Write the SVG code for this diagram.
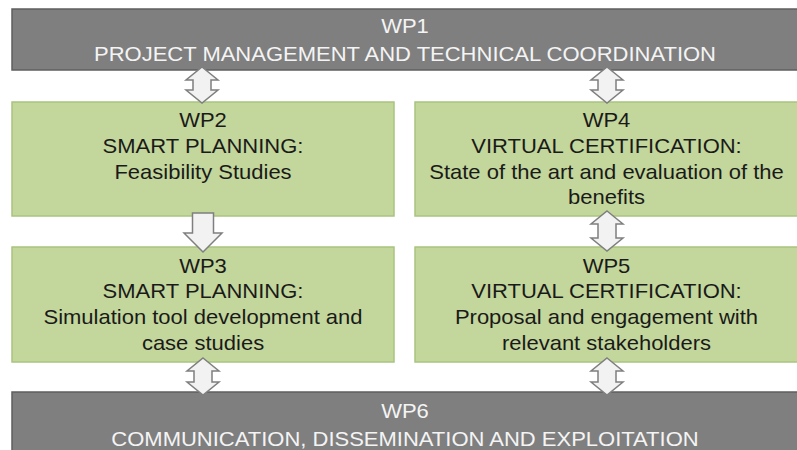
<svg xmlns="http://www.w3.org/2000/svg" width="797" height="450" viewBox="0 0 797 450">
<style>
.gray{fill:#7f7f7f;stroke:#5f5f5f;stroke-width:1.5}
.green{fill:#c3d69b;stroke:#a9c47f;stroke-width:1.5}
.arr{fill:#f2f2f2;stroke:#7f7f7f;stroke-width:1.5;stroke-linejoin:miter}
text{font-family:"Liberation Sans",Arial,sans-serif;font-size:20px;text-anchor:middle}
.lt{fill:#f4f4f4}
.dk{fill:#1a1a1a}
</style>
<rect x="0" y="0" width="797" height="450" fill="#ffffff"/>
<g id="wp1">
<rect class="gray" x="12" y="9" width="800" height="61"/>
<text class="lt" transform="translate(405,33) scale(1.1,1)">WP1</text>
<text class="lt" transform="translate(405,61) scale(1.1,1)">PROJECT MANAGEMENT AND TECHNICAL COORDINATION</text>
</g>
<g id="wp2">
<rect class="green" x="12" y="102" width="382" height="114"/>
<text class="dk" transform="translate(203,127) scale(1.1,1)">WP2</text>
<text class="dk" transform="translate(203,153) scale(1.1,1)">SMART PLANNING:</text>
<text class="dk" transform="translate(203,179) scale(1.1,1)">Feasibility Studies</text>
</g>
<g id="wp4">
<rect class="green" x="415" y="102" width="390" height="114"/>
<text class="dk" transform="translate(606.5,127) scale(1.1,1)">WP4</text>
<text class="dk" transform="translate(606.5,153) scale(1.1,1)">VIRTUAL CERTIFICATION:</text>
<text class="dk" transform="translate(606.5,179) scale(1.1,1)">State of the art and evaluation of the</text>
<text class="dk" transform="translate(606.5,204) scale(1.1,1)">benefits</text>
</g>
<g id="wp3">
<rect class="green" x="12" y="247" width="382" height="115"/>
<text class="dk" transform="translate(203,272.5) scale(1.1,1)">WP3</text>
<text class="dk" transform="translate(203,298) scale(1.1,1)">SMART PLANNING:</text>
<text class="dk" transform="translate(203,324) scale(1.1,1)">Simulation tool development and</text>
<text class="dk" transform="translate(203,350) scale(1.1,1)">case studies</text>
</g>
<g id="wp5">
<rect class="green" x="415" y="247" width="390" height="115"/>
<text class="dk" transform="translate(606.5,272.5) scale(1.1,1)">WP5</text>
<text class="dk" transform="translate(606.5,298) scale(1.1,1)">VIRTUAL CERTIFICATION:</text>
<text class="dk" transform="translate(606.5,324) scale(1.1,1)">Proposal and engagement with</text>
<text class="dk" transform="translate(606.5,350) scale(1.1,1)">relevant stakeholders</text>
</g>
<g id="wp6">
<rect class="gray" x="12" y="392" width="800" height="70"/>
<text class="lt" transform="translate(405,418) scale(1.1,1)">WP6</text>
<text class="lt" transform="translate(405,446) scale(1.1,1)">COMMUNICATION, DISSEMINATION AND EXPLOITATION</text>
</g>
<g id="connectors">
<path class="arr" d="M202,67 L218,80 L211,80 L211,90 L218,90 L202,103 L186,90 L193,90 L193,80 L186,80 Z"/>
<path class="arr" d="M607,67 L623,80 L616,80 L616,90 L623,90 L607,103 L591,90 L598,90 L598,80 L591,80 Z"/>
<path class="arr" d="M192.5,213 L213.5,213 L213.5,233 L222,233 L203,252 L184,233 L192.5,233 Z"/>
<path class="arr" d="M607,211 L623,224 L616,224 L616,238 L623,238 L607,251 L591,238 L598,238 L598,224 L591,224 Z"/>
<path class="arr" d="M203,358 L219,371 L212,371 L212,382 L219,382 L203,395 L187,382 L194,382 L194,371 L187,371 Z"/>
<path class="arr" d="M607,358 L623,371 L616,371 L616,382 L623,382 L607,395 L591,382 L598,382 L598,371 L591,371 Z"/>
</g>
</svg>
